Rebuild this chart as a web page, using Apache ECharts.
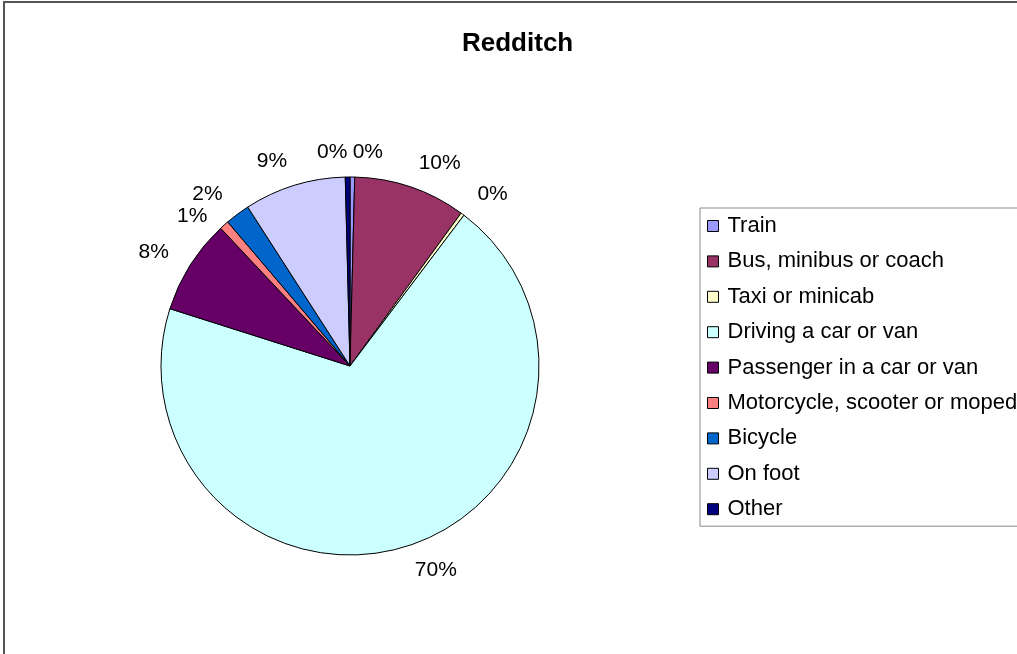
<!DOCTYPE html>
<html>
<head>
<meta charset="utf-8">
<script src="https://cdn.jsdelivr.net/npm/echarts@6/dist/echarts.min.js"></script>
<style>
html, body { margin: 0; padding: 0; background: #fff; }
#main { width: 1017px; height: 654px; }
</style>
</head>
<body>
<div id="main"></div>
<script>
// 数据
var categories = ['Train', 'Bus, minibus or coach', 'Taxi or minicab', 'Driving a car or van',
	'Passenger in a car or van', 'Motorcycle, scooter or moped', 'Bicycle', 'On foot', 'Other'];
var shares = [0.4, 9.6, 0.3, 69.6, 8.1, 0.8, 2.1, 8.7, 0.4];
var colors = ['#9999FF', '#993366', '#FFFFCC', '#CCFFFF', '#660066', '#FF8080', '#0066CC', '#CCCCFF', '#000080'];

var pieData = categories.map(function(name, i) {
	return { name: name, value: shares[i] };
});

var myChart = echarts.init(document.getElementById('main'));
var option = {
	backgroundColor: '#fff',
	color: colors,
	animation: false,
	textStyle: { fontFamily: 'Liberation Sans, Arial, sans-serif' },
	title: {
		text: 'Redditch',
		left: 457,
		top: 26,
		textStyle: { fontSize: 26, fontWeight: 'bold', color: '#000' }
	},
	legend: {
		orient: 'vertical',
		left: 700,
		top: 208,
		itemWidth: 11,
		itemHeight: 11,
		itemGap: 13.4,
		padding: [7, 40, 6, 7],
		borderColor: '#888',
		borderWidth: 1,
		icon: 'rect',
		itemStyle: { borderColor: '#000', borderWidth: 1 },
		textStyle: { fontSize: 22, color: '#000', lineHeight: 22, padding: [0, 0, 0, 4] },
		data: categories
	},
	graphic: [{
		type: 'rect',
		shape: { x: 4, y: 2, width: 1100, height: 700 },
		style: { fill: 'none', stroke: '#555', lineWidth: 2 },
		silent: true
	}],
	series: [{
		type: 'pie',
		center: [350, 366],
		radius: 189,
		startAngle: 90,
		clockwise: true,
		avoidLabelOverlap: false,
		// 1% 标签往下挪一点，避免和 2% 重叠
		labelLayout: function(p) {
			return p.dataIndex === 5 ? { dy: 10, hideOverlap: false } : { hideOverlap: false };
		},
		itemStyle: { borderColor: '#000', borderWidth: 1 },
		label: {
			show: true,
			position: 'outside',
			fontSize: 21,
			color: '#000',
			distanceToLabelLine: 0,
			formatter: function(p) { return Math.round(p.percent) + '%'; }
		},
		labelLine: { show: false, length: 25, length2: 0 },
		emphasis: { disabled: true },
		data: pieData
	}]
};
myChart.setOption(option);
</script>
</body>
</html>
